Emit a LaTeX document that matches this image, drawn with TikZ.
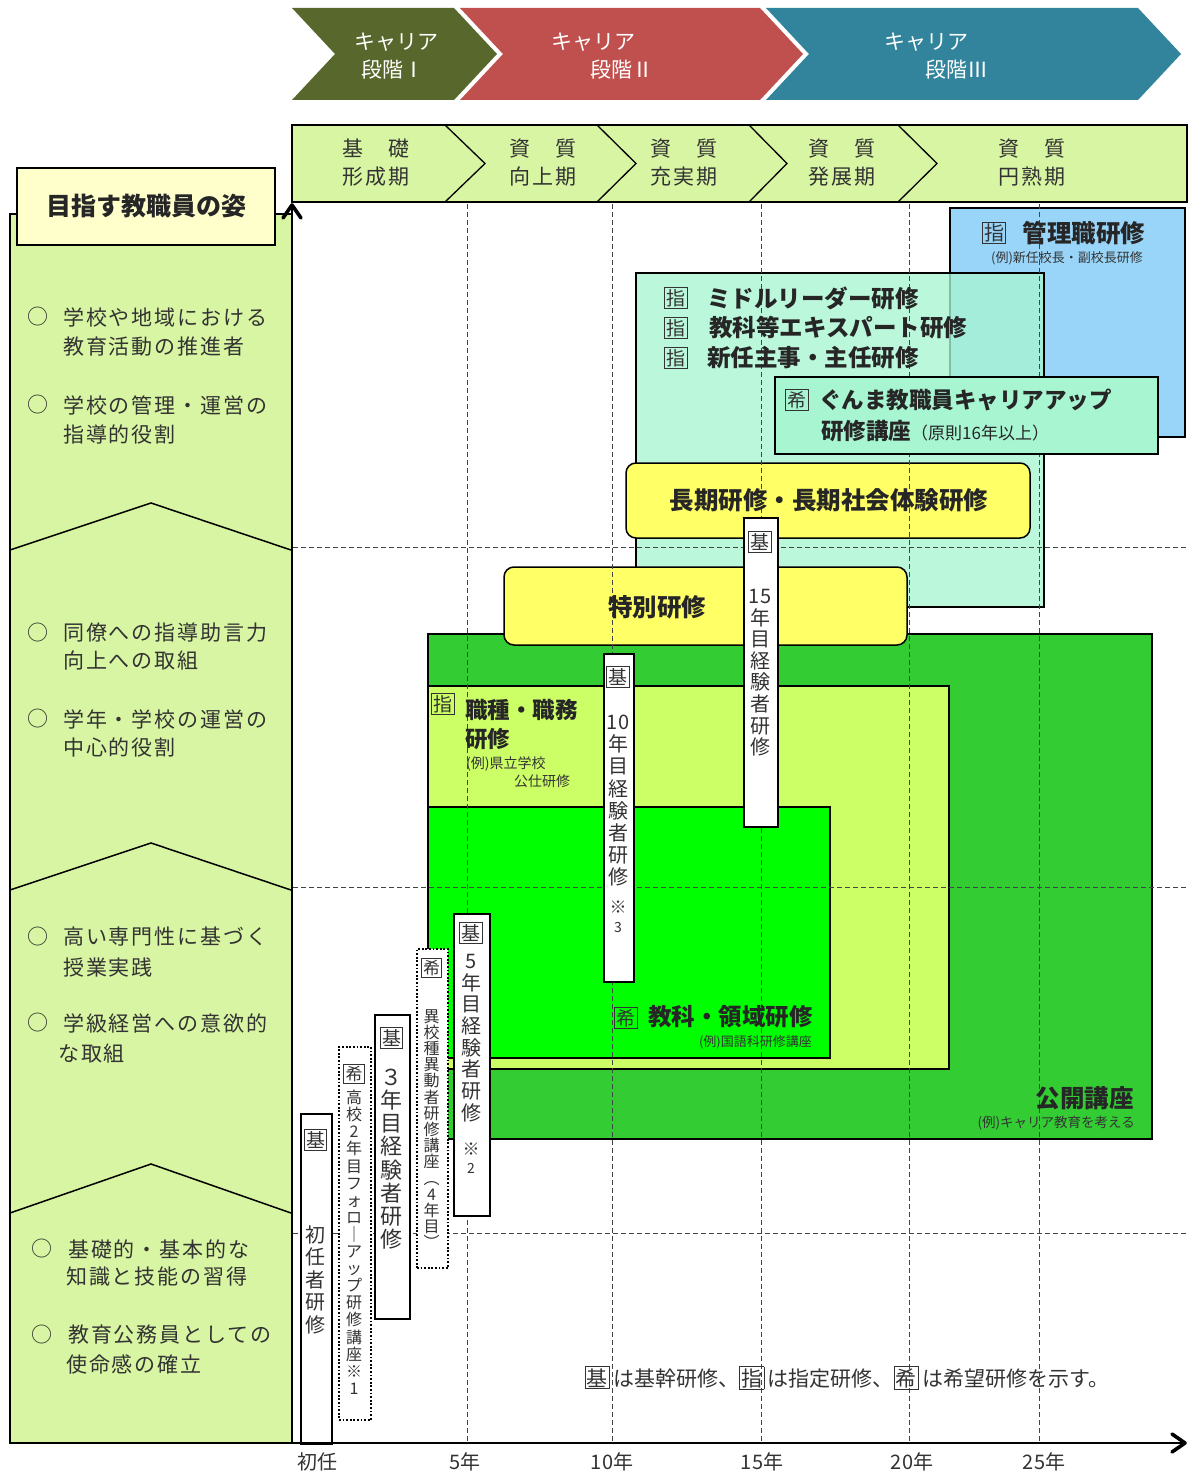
\documentclass[tikz,border=0pt]{standalone}
\usepackage{fontspec}
\setmainfont{Noto Sans CJK JP}
\newfontfamily\jpsp{Noto Sans CJK JP}[LetterSpace=9]
\usetikzlibrary{arrows.meta}
\definecolor{cOlive}{HTML}{58672B}
\definecolor{cRed}{HTML}{C0504D}
\definecolor{cTeal}{HTML}{31849B}
\definecolor{cHead}{HTML}{D7F5A2}
\definecolor{cCream}{HTML}{FFFFCC}
\definecolor{cBlue}{HTML}{99D5F9}
\definecolor{cMint}{HTML}{A8F5D2}
\definecolor{cYel}{HTML}{FFFF66}
\definecolor{cGreen}{HTML}{33CC33}
\definecolor{cYG}{HTML}{CCFF66}
\definecolor{cBright}{HTML}{00FF00}
\definecolor{cTxt}{HTML}{333333}
\definecolor{cDash}{HTML}{444444}
\newcommand\boxch[1]{{\setlength{\fboxsep}{1.2pt}\setlength{\fboxrule}{0.9pt}\fbox{#1}}}
\begin{document}
\begin{tikzpicture}[x=1pt,y=-1pt,
  every node/.style={inner sep=0pt},
  chevtext/.style={text=white, font=\fontsize{21}{21}\selectfont},
  headtext/.style={text=cTxt, font=\jpsp\fontsize{21}{21}\selectfont},
  item/.style={text=cTxt, font=\jpsp\fontsize{21}{21}\selectfont, anchor=west},
  bullet/.style={text=cTxt, font=\fontsize{21}{21}\selectfont},
  frame/.style={draw=black, line width=1.5pt},
  gridline/.style={draw=cDash, line width=1pt, dash pattern=on 5pt off 3pt},
  vbox/.style={draw=black, fill=white, line width=1.6pt, anchor=north west},
  vdot/.style={draw=black, fill=white, line width=1.8pt, dash pattern=on 1.8pt off 1.8pt, anchor=north west},
  vtext/.style={text=cTxt, align=center, anchor=north},
  big/.style={text=black!85, font=\bfseries\fontsize{23.5}{23.5}\selectfont},
  small/.style={text=cTxt, font=\fontsize{13}{13}\selectfont},
  kmark/.style={text=cTxt, font=\fontsize{19}{19}\selectfont},
  axisline/.style={line width=2.6pt},
  axishead/.style={line width=3.6pt, line cap=round, line join=round},
  tick/.style={text=cTxt, font=\fontsize{20}{20}\selectfont},
]
\useasboundingbox (0,0) rectangle (1188,1474);
\fill[white] (0,0) rectangle (1188,1474);

% ---- career stage chevrons
\fill[cOlive] (292,8) -- (454,8) -- (497,54) -- (454,100) -- (292,100) -- (335,54) -- cycle;
\fill[cRed] (460,8) -- (760,8) -- (803,54) -- (760,100) -- (460,100) -- (503,54) -- cycle;
\fill[cTeal] (766,8) -- (1138,8) -- (1181,54) -- (1138,100) -- (766,100) -- (809,54) -- cycle;
\node[chevtext] (c1a) at (396,42) {キャリア};
\node[chevtext] (c1b) at (393,70) {段階Ⅰ};
\node[chevtext] (c2a) at (593,42) {キャリア};
\node[chevtext] (c2b) at (622,70) {段階Ⅱ};
\node[chevtext] (c3a) at (926,42) {キャリア};
\node[chevtext] (c3b) at (957,70) {段階Ⅲ};

% ---- phase header
\draw[frame, fill=cHead] (292,125) rectangle (1187,202);
\foreach \xa/\xb in {445/485,597/636,749/787,898/937}
  \draw[line width=1.3pt] (\xa,125) -- (\xb,163.5) -- (\xa,202);
\node[headtext] (h1a) at (376,149) {基　礎};
\node[headtext] (h1b) at (376,177) {形成期};
\node[headtext] (h2a) at (543,149) {資　質};
\node[headtext] (h2b) at (543,177) {向上期};
\node[headtext] (h3a) at (684,149) {資　質};
\node[headtext] (h3b) at (684,177) {充実期};
\node[headtext] (h4a) at (842,149) {資　質};
\node[headtext] (h4b) at (842,177) {発展期};
\node[headtext] (h5a) at (1032,149) {資　質};
\node[headtext] (h5b) at (1032,177) {円熟期};

% ---- left column
\draw[frame, fill=cHead] (10,214) rectangle (292,1443);
\draw[line width=1.5pt] (10,550) -- (151,503) -- (291,550);
\draw[line width=1.5pt] (10,890) -- (151,843) -- (291,890);
\draw[line width=1.5pt] (10,1213) -- (151,1164) -- (291,1213);

\node[bullet] (b1) at (38,317) {○};
\node[item] (i1a) at (63,317) {学校や地域における};
\node[item] (i1b) at (63,347) {教育活動の推進者};
\node[bullet] (b2) at (38,405) {○};
\node[item] (i2a) at (63,405) {学校の管理・運営の};
\node[item] (i2b) at (63,434) {指導的役割};
\node[bullet] (b3) at (38,633) {○};
\node[item] (i3a) at (63,633) {同僚への指導助言力};
\node[item] (i3b) at (63,661) {向上への取組};
\node[bullet] (b4) at (38,719) {○};
\node[item] (i4a) at (63,719) {学年・学校の運営の};
\node[item] (i4b) at (63,747) {中心的役割};
\node[bullet] (b5) at (38,937) {○};
\node[item] (i5a) at (63,937) {高い専門性に基づく};
\node[item] (i5b) at (63,967) {授業実践};
\node[bullet] (b6) at (38,1023) {○};
\node[item] (i6a) at (63,1023) {学級経営への意欲的};
\node[item] (i6b) at (58,1054) {な取組};
\node[bullet] (b7) at (42,1249) {○};
\node[item] (i7a) at (68,1249) {基礎的・基本的な};
\node[item] (i7b) at (66,1277) {知識と技能の習得};
\node[bullet] (b8) at (42,1335) {○};
\node[item] (i8a) at (68,1335) {教育公務員としての};
\node[item] (i8b) at (66,1364) {使命感の確立};

\node[draw=black, line width=1.5pt, fill=cCream, minimum width=258pt, minimum height=77pt,
      font=\bfseries\fontsize{25}{25}\selectfont, text=black!85] (title) at (146,206.5) {目指す教職員の姿};

% ---- training boxes
\draw[draw=black, line width=1.2pt, fill=cBlue] (950,208) rectangle (1185,437);
\draw[draw=black, line width=1.6pt, fill=cMint, fill opacity=0.78] (636,273) rectangle (1044,607);
\draw[frame, fill=cGreen] (428,634) rectangle (1152,1139);
\draw[frame, fill=cYG] (428,686) rectangle (949,1069);
\draw[frame, fill=cBright] (428,807) rectangle (830,1058);
\draw[frame, fill=cYel, rounded corners=10pt] (504,567) rectangle (907,645);
\draw[frame, fill=cYel, rounded corners=10pt] (626,463) rectangle (1030,538);

% ---- grid
\foreach \x in {467,612,761,909,1039} \draw[gridline] (\x,204) -- (\x,1442);
\foreach \y in {547,887,1233} \draw[gridline] (293,\y) -- (1187,\y);

% ---- gunma box
\draw[draw=black, line width=2pt, fill=cMint] (775,377) rectangle (1158,454);

% ---- texts in boxes
\node[kmark, font=\fontsize{20}{20}\selectfont] (k1) at (994,233) {\boxch{指}};
\node[big, font=\bfseries\fontsize{24.5}{24.5}\selectfont] (kanri) at (1084,233) {管理職研修};
\node[small] (kanrie) at (1067,258) {(例)新任校長・副校長研修};

\node[kmark] (k2) at (676,298) {\boxch{指}};
\node[big, anchor=west] (mid1) at (707,298) {ミドルリーダー研修};
\node[kmark] (k3) at (676,328) {\boxch{指}};
\node[big, anchor=west] (mid2) at (709,328) {教科等エキスパート研修};
\node[kmark] (k4) at (676,358) {\boxch{指}};
\node[big, anchor=west] (mid3) at (707,358) {新任主事・主任研修};

\node[kmark] (k5) at (797,400) {\boxch{希}};
\node[big, anchor=west, font=\bfseries\fontsize{22.5}{22.5}\selectfont] (gun1) at (819,400) {ぐんま教職員キャリアアップ};
\node[big, anchor=west, font=\bfseries\fontsize{22.5}{22.5}\selectfont] (gun2) at (821,431) {研修講座{\mdseries\fontsize{17}{17}\selectfont （原則16年以上）}};

\node[big, font=\bfseries\fontsize{24.5}{24.5}\selectfont] (choki) at (829,500) {長期研修・長期社会体験研修};
\node[big, font=\bfseries\fontsize{24.5}{24.5}\selectfont] (tokubetsu) at (657,607) {特別研修};

\node[kmark] (k6) at (443,704) {\boxch{指}};
\node[big, anchor=west, font=\bfseries\fontsize{22.5}{22.5}\selectfont] (shoku1) at (465,710) {職種・職務};
\node[big, anchor=west, font=\bfseries\fontsize{22.5}{22.5}\selectfont] (shoku2) at (465,739) {研修};
\node[small, anchor=west, font=\fontsize{14}{14}\selectfont] (shoku3) at (466,764) {(例)県立学校};
\node[small, anchor=west, font=\fontsize{14}{14}\selectfont] (shoku4) at (514,781) {公仕研修};

\node[kmark] (k7) at (626,1018) {\boxch{希}};
\node[big, anchor=west] (kyoka) at (648,1017) {教科・領域研修};
\node[small, anchor=east] (kyokae) at (812,1042) {(例)国語科研修講座};

\node[big, anchor=east, font=\bfseries\fontsize{24.5}{24.5}\selectfont] (kokai) at (1134,1098) {公開講座};
\node[small, anchor=east, font=\fontsize{13.5}{13.5}\selectfont] (kokaie) at (1135,1123) {(例)キャリア教育を考える};

% ---- vertical training boxes
\node[vbox, minimum width=31pt, minimum height=330pt] (v1) at (300,1113) {};
\node[vdot, minimum width=32pt, minimum height=373pt] (v2) at (338,1046) {};
\node[vbox, minimum width=35pt, minimum height=304pt] (v3) at (374,1014) {};
\node[vdot, minimum width=31pt, minimum height=319pt] (v4) at (416,948) {};
\node[vbox, minimum width=36pt, minimum height=302pt] (v5) at (453,913) {};
\node[vbox, minimum width=30pt, minimum height=328pt] (v6) at (603,653) {};
\node[vbox, minimum width=34pt, minimum height=309pt] (v7) at (743,517) {};

\node[kmark] (m1) at (315.5,1140) {\boxch{基}};
\node[vtext, font=\fontsize{20}{22.5}\selectfont] (t1) at (315.5,1225) {初\\任\\者\\研\\修};
\node[kmark, font=\fontsize{17}{17}\selectfont] (m2) at (354,1074) {\boxch{希}};
\node[vtext, font=\fontsize{16}{17.1}\selectfont] (t2) at (354,1090) {高\\校\\2\\年\\目\\フ\\ォ\\ロ\\｜\\ア\\ッ\\プ\\研\\修\\講\\座\\※\\1};
\node[kmark] (m3) at (391.5,1038) {\boxch{基}};
\node[vtext, font=\fontsize{22}{23.1}\selectfont] (t3) at (391.5,1069) {３\\年\\目\\経\\験\\者\\研\\修};
\node[kmark, font=\fontsize{17}{17}\selectfont] (m4) at (431.5,968) {\boxch{希}};
\node[vtext, font=\fontsize{16}{16.2}\selectfont] (t4) at (431.5,1009) {異\\校\\種\\異\\動\\者\\研\\修\\講\\座\\︵\\4\\年\\目\\︶};
\node[kmark] (m5) at (471,933) {\boxch{基}};
\node[vtext, font=\fontsize{20}{21.7}\selectfont] (t5) at (471,954) {5\\年\\目\\経\\験\\者\\研\\修};
\node[text=cTxt, font=\fontsize{17}{17}\selectfont] (n5a) at (471,1149) {※};
\node[text=cTxt, font=\fontsize{14}{14}\selectfont] (n5b) at (471,1168) {2};
\node[kmark] (m6) at (618,677) {\boxch{基}};
\node[vtext, font=\fontsize{20}{22.1}\selectfont] (t6) at (618,715) {10\\年\\目\\経\\験\\者\\研\\修};
\node[text=cTxt, font=\fontsize{17}{17}\selectfont] (n6a) at (618,907) {※};
\node[text=cTxt, font=\fontsize{14}{14}\selectfont] (n6b) at (618,927) {3};
\node[kmark] (m7) at (760,542) {\boxch{基}};
\node[vtext, font=\fontsize{20}{21.6}\selectfont] (t7) at (760,589) {15\\年\\目\\経\\験\\者\\研\\修};

% ---- legend
\node[text=cTxt, font=\fontsize{21}{21}\selectfont] (legend) at (847,1378)
  {\boxch{基}\,は基幹研修、\boxch{指}\,は指定研修、\boxch{希}\,は希望研修を示す。};

% ---- axes
\coordinate (origin) at (292,1443);
\coordinate (ytop) at (292,205);
\coordinate (xend) at (1185,1443);
\draw[axisline] (origin) -- (ytop);
\draw[axisline] (origin) -- (xend);
\draw[axishead] ([xshift=-9pt,yshift=-13pt]ytop) -- (ytop) -- ([xshift=9pt,yshift=-13pt]ytop);
\draw[axishead] ([xshift=-13pt,yshift=9pt]xend) -- (xend) -- ([xshift=-13pt,yshift=-9pt]xend);

\node[tick] (x0) at (317,1462) {初任};
\node[tick] (x5) at (465,1462) {5年};
\node[tick] (x10) at (612,1462) {10年};
\node[tick] (x15) at (762,1462) {15年};
\node[tick] (x20) at (912,1462) {20年};
\node[tick] (x25) at (1044,1462) {25年};
\end{tikzpicture}
\end{document}
